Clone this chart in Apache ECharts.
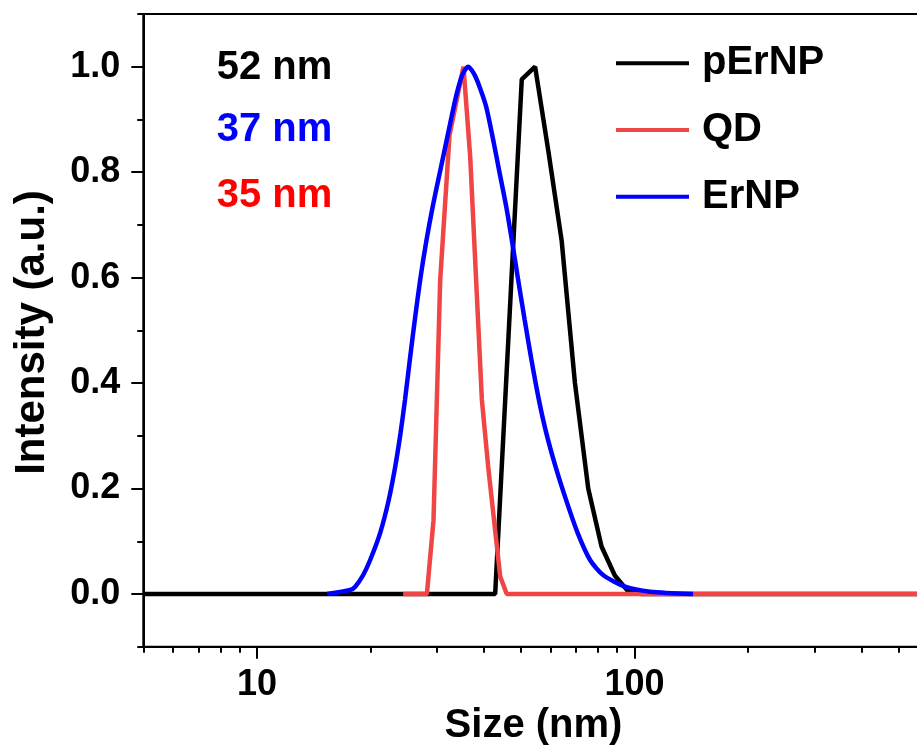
<!DOCTYPE html>
<html>
<head>
<meta charset="utf-8">
<script src="https://cdn.jsdelivr.net/npm/echarts@6/dist/echarts.min.js"></script>
<style>html,body{margin:0;padding:0;background:#fff}#c{width:917px;height:751px}</style>
</head>
<body>
<div id="c"></div>
<script>
// ---- data ----
const seriesNames = ['pErNP', 'QD', 'ErNP'];
const pErNPSize = [5, 42.77, 46.4, 50.3, 54.57, 59.16, 64.16, 69.57, 75.45, 81.83, 88.74, 96.23, 104.3, 1000];
const pErNPInt  = [0, 0, 0.49, 0.976, 1.0, 0.84, 0.67, 0.40, 0.20, 0.09, 0.035, 0.005, 0, 0];
const qdSize = [24.4, 28.2, 29.36, 30.58, 32.37, 35.25, 36.72, 39.44, 40.99, 44.1, 45.9, 1000];
const qdInt  = [0, 0, 0.14, 0.595, 0.87, 1.0, 0.83, 0.368, 0.241, 0.033, 0, 0];
const erNPSize = [15.35, 17.66, 18.21, 19.12, 19.95, 21.21, 22.34, 23.24, 24.01, 24.67, 25.41, 26.20, 27.07, 28.13, 29.22, 30.49, 31.82, 33.21, 34.03, 34.98, 36.28,
                  37.75, 39.15, 40.49, 42.26, 43.96, 45.74, 47.35, 49.20, 51.20, 53.36, 55.85, 58.43, 61.84, 65.94, 70.72, 76.30, 82.63, 94.48, 110.05, 143.0];
const erNPInt  = [0, 0.0076, 0.0138, 0.036, 0.0645, 0.116, 0.178, 0.241, 0.305, 0.368, 0.444, 0.520, 0.596, 0.671, 0.735, 0.798, 0.861, 0.924, 0.956, 0.984, 1.0,
                  0.984, 0.956, 0.924, 0.861, 0.798, 0.735, 0.671, 0.596, 0.520, 0.444, 0.368, 0.305, 0.241, 0.178, 0.116, 0.0645, 0.036, 0.0138, 0.0044, 0];
const annotations = ['52 nm', '37 nm', '35 nm'];
const xMajorTicks = [10, 100, 1000];
const xTickLabels = [10, 100];
const xMinorTicks = [5, 6, 7, 8, 9, 20, 30, 40, 50, 60, 70, 80, 90, 200, 300, 400, 500, 600, 700, 800, 900];
const yTickLabels = [0, 0.2, 0.4, 0.6, 0.8, 1.0];
const yMinorTicks = [-0.1, 0.1, 0.3, 0.5, 0.7, 0.9, 1.1];
const xMin = 5, xMax = 1000, yMin = -0.1, yMax = 1.1;
const xTitle = 'Size (nm)';
const yTitle = 'Intensity (a.u.)';

// ---- styles ----
const FONT = '"Liberation Sans", Arial, sans-serif';
const colors = ['#000000', '#f04545', '#0000ff'];
const annColors = ['#000000', '#0000ff', '#ff0000'];
const pairs = (xs, ys) => xs.map((x, i) => [x, ys[i]]);
const lg = v => Math.log10(v);

const chart = echarts.init(document.getElementById('c'), null, {renderer: 'canvas'});
const mkSeries = (i, xs, ys, extra) => Object.assign({
  type: 'line', name: seriesNames[i], symbol: 'none', showSymbol: false,
  xAxisIndex: 0, yAxisIndex: 0, animation: false,
  data: pairs(xs, ys),
  itemStyle: {color: colors[i]},
  lineStyle: {color: colors[i], width: 4.5},
  emphasis: {disabled: true}
}, extra || {});

const option = {
  animation: false,
  backgroundColor: '#fff',
  textStyle: {fontFamily: FONT},
  grid: {left: 143.3, top: 14, width: 868.6, height: 632.7, show: true, borderColor: '#000', borderWidth: 2, containLabel: false, outerBoundsMode: 'none'},
  legend: {
    orient: 'vertical', left: 616, top: 43.3, padding: 0,
    itemWidth: 73, itemHeight: 4, itemGap: 26.7, icon: 'rect',
    data: seriesNames,
    textStyle: {fontSize: 40, fontWeight: 'bold', color: '#000', fontFamily: FONT, padding: [0, 0, 0, 8]}
  },
  xAxis: [
    {type: 'log', logBase: 10, min: xMin, max: xMax, position: 'bottom',
     axisLine: {show: true, onZero: false, lineStyle: {color: '#000', width: 2}},
     axisTick: {show: false}, axisLabel: {show: false}, splitLine: {show: false}, minorTick: {show: false}},
    {type: 'value', min: lg(xMin), max: lg(xMax), position: 'bottom',
     axisLine: {show: false, onZero: false},
     axisTick: {show: true, length: 12, lineStyle: {color: '#000', width: 2}, customValues: xMajorTicks.map(lg)},
     axisLabel: {show: true, margin: 20, customValues: xTickLabels.map(lg), fontSize: 36, fontWeight: 'bold', color: '#000', fontFamily: FONT,
       formatter: v => String(Math.round(Math.pow(10, v)))},
     splitLine: {show: false}},
    {type: 'value', min: lg(xMin), max: lg(xMax), position: 'bottom',
     axisLine: {show: false, onZero: false},
     axisTick: {show: true, length: 6, lineStyle: {color: '#000', width: 2}, customValues: xMinorTicks.map(lg)},
     axisLabel: {show: false}, splitLine: {show: false}}
  ],
  yAxis: [
    {type: 'value', min: yMin, max: yMax, position: 'left',
     axisLine: {show: true, onZero: false, lineStyle: {color: '#000', width: 2}},
     axisTick: {show: true, length: 12, lineStyle: {color: '#000', width: 2}, customValues: yTickLabels},
     axisLabel: {show: true, margin: 23, customValues: yTickLabels, fontSize: 36, fontWeight: 'bold', color: '#000', fontFamily: FONT,
       formatter: v => v.toFixed(1)},
     splitLine: {show: false}},
    {type: 'value', min: yMin, max: yMax, position: 'left',
     axisLine: {show: false, onZero: false},
     axisTick: {show: true, length: 6, lineStyle: {color: '#000', width: 2}, customValues: yMinorTicks},
     axisLabel: {show: false}, splitLine: {show: false}}
  ],
  series: [
    mkSeries(0, pErNPSize, pErNPInt),
    mkSeries(1, qdSize, qdInt),
    mkSeries(2, erNPSize, erNPInt, {smooth: 0.25})
  ],
  graphic: [
    {type: 'text', x: 216.7, y: 68.3, style: {text: annotations[0], fill: annColors[0], font: 'bold 40px ' + FONT, verticalAlign: 'middle', align: 'left'}},
    {type: 'text', x: 216.7, y: 130, style: {text: annotations[1], fill: annColors[1], font: 'bold 40px ' + FONT, verticalAlign: 'middle', align: 'left'}},
    {type: 'text', x: 216.7, y: 195.8, style: {text: annotations[2], fill: annColors[2], font: 'bold 40px ' + FONT, verticalAlign: 'middle', align: 'left'}},
    {type: 'text', x: 533.5, y: 726, style: {text: xTitle, fill: '#000', font: 'bold 40px ' + FONT, verticalAlign: 'middle', align: 'center'}},
    {type: 'text', x: 32, y: 332.5, rotation: Math.PI / 2, style: {text: yTitle, fill: '#000', font: 'bold 42px ' + FONT, verticalAlign: 'middle', align: 'center'}}
  ]
};
chart.setOption(option);
</script>
</body>
</html>
